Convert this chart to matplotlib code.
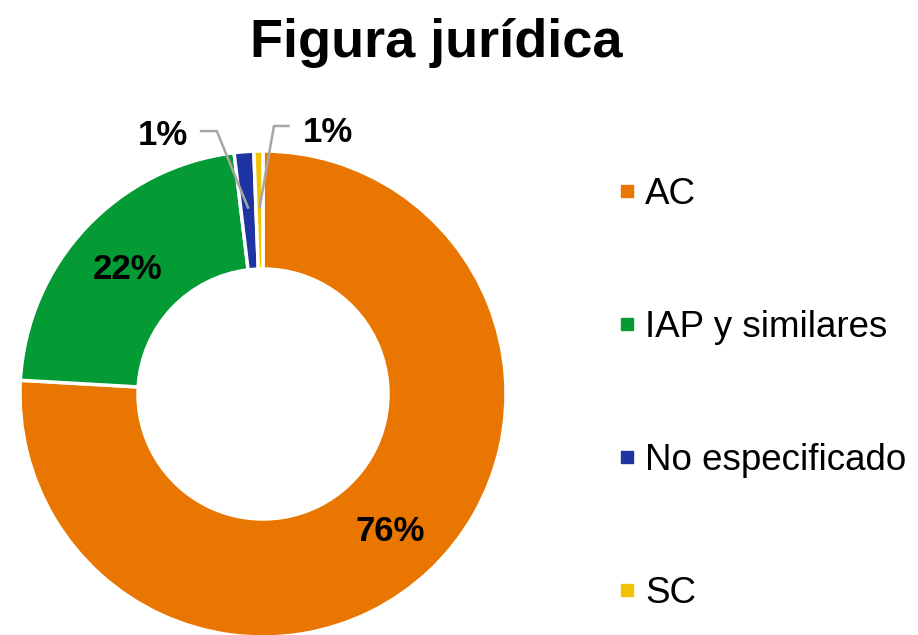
import numpy as np
import matplotlib.pyplot as plt
from matplotlib.lines import Line2D

plt.rcParams['font.family'] = ['Liberation Sans', 'DejaVu Sans']

# data
categories = ['AC', 'IAP y similares', 'No especificado', 'SC']
shares = [75.9, 22.2, 1.3, 0.6]
colors = ['#E97600', '#049A34', '#1E34A3', '#F2C300']
title = 'Figura jurídica'

W, H = 918, 635
cx, cy, R = 263, 394, 243   # pie centre and radius in px

fig = plt.figure(figsize=(W / 100, H / 100), dpi=100)
ax = fig.add_axes([(cx - R) / W, (H - cy - R) / H, 2 * R / W, 2 * R / H])

wedges, _ = ax.pie(shares, colors=colors, startangle=90, counterclock=False,
                   radius=1, wedgeprops=dict(width=1 - 125 / R, edgecolor='white', linewidth=2.5))
ax.set_xlim(-1, 1)
ax.set_ylim(-1, 1)
ax.set_aspect('equal')
ax.axis('off')

# percentage labels
r_lab = 0.765
outside = {2: (-0.41, 1.065, -0.26, -0.19), 3: (0.265, 1.075, 0.11, 0.045)}
for i, (w, v) in enumerate(zip(wedges, shares)):
    mid = np.deg2rad((w.theta1 + w.theta2) / 2)
    mx, my = r_lab * np.cos(mid), r_lab * np.sin(mid)
    txt = f'{round(v)}%'
    if i in outside:
        tx, ty, x0, x1 = outside[i]
        ax.text(tx, ty, txt, ha='center', va='center', fontsize=25,
                fontweight='bold', clip_on=False)
        ly = 1.082 if i == 2 else 1.103
        ax.plot([x0, x1, mx], [ly, ly, my], color='#A6A6A6', lw=1.8,
                clip_on=False, solid_capstyle='butt')
    else:
        ax.text(mx, my - 0.01, txt, ha='center', va='center', fontsize=25,
                fontweight='bold')

fig.text(436 / W, 1 - 57 / H, title, ha='center', va='baseline',
         fontsize=39, fontweight='bold')

handles = [Line2D([], [], marker='s', linestyle='none', markersize=8.5,
                  markerfacecolor=c, markeredgecolor=c) for c in colors]
fig.legend(handles, categories, loc='center left',
           bbox_to_anchor=(598 / W, 1 - 394 / H), frameon=False,
           fontsize=26.5, labelspacing=2.66, handlelength=0.6,
           handletextpad=0.18, borderpad=0)

fig.savefig('out.png', dpi=100)
